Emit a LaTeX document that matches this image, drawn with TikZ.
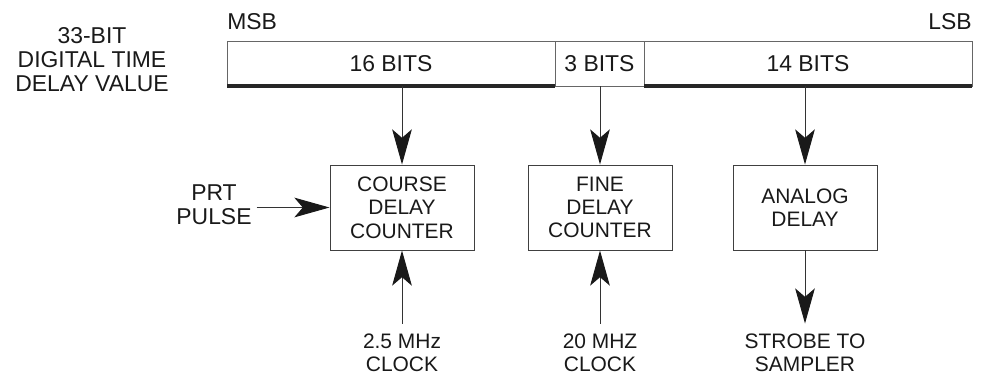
\documentclass[tikz,border=0pt]{standalone}
\usepackage{fontspec}
\setmainfont{Liberation Sans}
\usetikzlibrary{arrows.meta, positioning}
\newcommand{\bigtext}{\fontsize{16.3}{17}\selectfont}
\newcommand{\smalltext}{\fontsize{14.9}{16.6}\selectfont}
\tikzset{
    field/.style={rectangle, draw=black!60, line width=0.6pt, minimum height=1.125cm, inner sep=0pt, outer sep=0pt, font=\bigtext, text=black!90},
    block/.style={rectangle, draw=black!75, line width=0.7pt, minimum width=3.6cm, minimum height=2.125cm, inner sep=0pt, align=center, font=\smalltext, text=black!90},
    biglabel/.style={align=center, font=\bigtext, text=black!90},
    smalllabel/.style={align=center, font=\smalltext, text=black!90, inner ysep=0.25cm},
    line/.style={draw=black!80, line width=0.7pt, -{Stealth[length=25pt, width=14pt, inset=6pt, color=black!90]}},
    busline/.style={draw=black!85, line width=2.2pt},
}

\begin{document}
\begin{tikzpicture}
    \useasboundingbox (0,0) rectangle (24.675,9.4);

    % Bit field
    \node[field, minimum width=8.2cm] (seg16) at (9.775, 7.8125) {16 BITS};
    \node[field, minimum width=2.225cm, right=0pt of seg16] (seg3) {3 BITS};
    \node[field, minimum width=8.2cm, right=0pt of seg3] (seg14) {14 BITS};

    \draw[busline] (seg16.south west) -- (seg16.south east);
    \draw[busline] (seg14.south west) -- (seg14.south east);

    \node[biglabel] (value) at (2.3, 7.9) {33-BIT\\DIGITAL TIME\\DELAY VALUE};
    \node[biglabel, inner sep=0pt, above right=0.275cm and 0cm of seg16.north west] (msb) {MSB};
    \node[biglabel, inner sep=0pt, above left=0.275cm and 0cm of seg14.north east] (lsb) {LSB};

    % Delay blocks
    \node[block] (course) at (10.05, 4.2125) {COURSE\\DELAY\\COUNTER};
    \node[block] (fine) at (15.0, 4.2125) {FINE\\DELAY\\COUNTER};
    \node[block] (analog) at (20.125, 4.2125) {ANALOG\\DELAY};

    \draw[line] (seg16.south -| course.north) -- (course.north);
    \draw[line] (seg3.south -| fine.north) -- (fine.north);
    \draw[line] (seg14.south -| analog.north) -- (analog.north);

    % Inputs and output
    \node[biglabel] (prt) at (5.35, 4.29) {PRT\\PULSE};
    \draw[line] (prt.east |- course.west) -- (course.west);

    \node[smalllabel] (clk25) at (10.05, 0.578) {2.5 MHz\\CLOCK};
    \node[smalllabel] (clk20) at (15.0, 0.578) {20 MHZ\\CLOCK};
    \node[smalllabel] (strobe) at (20.125, 0.578) {STROBE TO\\SAMPLER};

    \draw[line] (clk25.north) -- (course.south);
    \draw[line] (clk20.north) -- (fine.south);
    \draw[line] (analog.south) -- (strobe.north);

\end{tikzpicture}
\end{document}
